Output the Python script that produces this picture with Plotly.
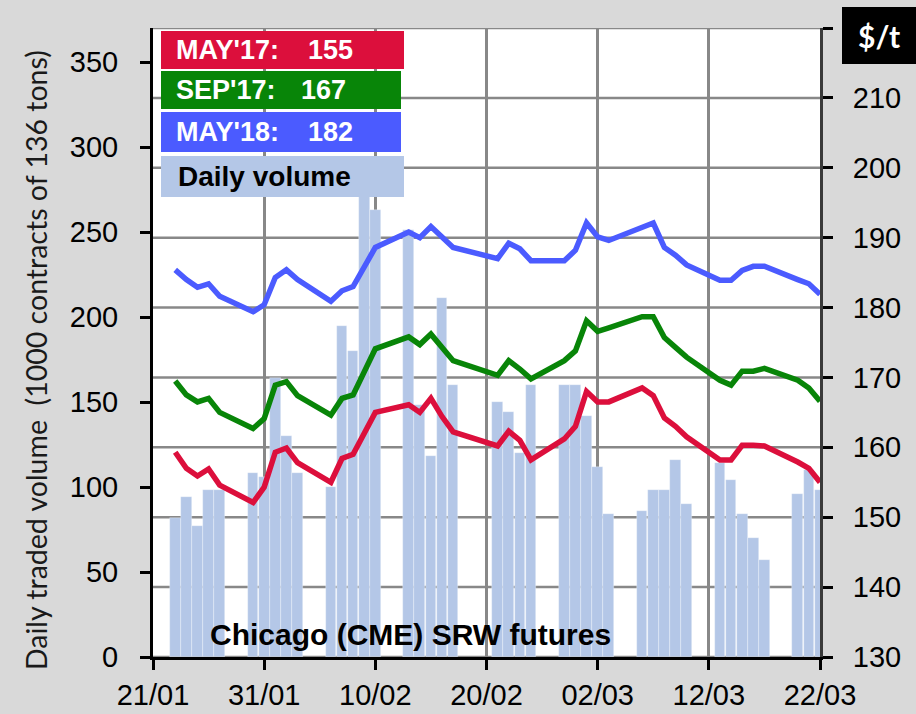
import plotly.graph_objects as go

# ---------------- data ----------------
dates = ["2017-01-23", "2017-01-24", "2017-01-25", "2017-01-26", "2017-01-27",
         "2017-01-30", "2017-01-31", "2017-02-01", "2017-02-02", "2017-02-03",
         "2017-02-06", "2017-02-07", "2017-02-08", "2017-02-09", "2017-02-10",
         "2017-02-13", "2017-02-14", "2017-02-15", "2017-02-16", "2017-02-17",
         "2017-02-21", "2017-02-22", "2017-02-23", "2017-02-24",
         "2017-02-27", "2017-02-28", "2017-03-01", "2017-03-02", "2017-03-03",
         "2017-03-06", "2017-03-07", "2017-03-08", "2017-03-09", "2017-03-10",
         "2017-03-13", "2017-03-14", "2017-03-15", "2017-03-16", "2017-03-17",
         "2017-03-20", "2017-03-21", "2017-03-22"]

volume = [82, 94, 77, 98, 98,
          108, 106, 164, 130, 108,
          100, 195, 180, 285, 263,
          251, 148, 118, 211, 160,
          150, 144, 120, 160,
          160, 160, 142, 112, 84,
          86, 98, 98, 116, 90,
          114, 104, 84, 70, 57,
          96, 110, 98]

may17 = [159.3, 157.0, 155.9, 156.9, 154.6,
         152.1, 154.3, 159.3, 159.9, 157.8,
         155.0, 158.4, 159.0, 162.0, 165.0,
         166.1, 165.0, 167.0, 164.4, 162.2,
         160.2, 162.3, 161.0, 158.2,
         161.2, 163.0, 168.0, 166.5, 166.5,
         168.5, 167.4, 164.2, 163.0, 161.5,
         158.2, 158.2, 160.3, 160.3, 160.2,
         157.9, 157.0, 155.0]

sep17 = [169.5, 167.5, 166.5, 167.0, 165.0,
         162.7, 164.1, 168.9, 169.4, 167.4,
         164.6, 167.0, 167.5, 170.9, 174.1,
         175.8, 174.7, 176.2, 174.2, 172.4,
         170.3, 172.4, 171.2, 169.8,
         172.4, 173.8, 178.1, 176.6, 177.1,
         178.7, 178.7, 175.7, 174.3, 172.9,
         169.6, 168.9, 170.9, 170.9, 171.3,
         169.6, 168.5, 166.6]

may18 = [185.4, 184.0, 182.9, 183.4, 181.6,
         179.4, 180.4, 184.3, 185.4, 184.0,
         180.9, 182.4, 183.0, 185.8, 188.6,
         190.8, 190.0, 191.6, 190.1, 188.6,
         187.0, 189.2, 188.4, 186.7,
         186.7, 188.2, 192.1, 190.1, 189.6,
         191.6, 192.1, 188.6, 187.5, 186.1,
         183.9, 183.9, 185.3, 185.9, 185.9,
         184.0, 183.4, 181.9]

series_names = ["MAY'17:", "SEP'17:", "MAY'18:"]
series_last = ["155", "167", "182"]
x_tickvals = ["2017-01-21", "2017-01-31", "2017-02-10", "2017-02-20",
              "2017-03-02", "2017-03-12", "2017-03-22"]
x_ticktext = ["21/01", "31/01", "10/02", "20/02", "02/03", "12/03", "22/03"]
left_ticks = [0, 50, 100, 150, 200, 250, 300, 350]
right_ticks = [130, 140, 150, 160, 170, 180, 190, 200, 210, 220]
right_ticktext = ["130", "140", "150", "160", "170", "180", "190", "200", "210", ""]

# ---------------- styling ----------------
W, H = 916, 714
L, R, T, B = 153, 96, 28, 57
PW, PH = W - L - R, H - T - B

def px(x):
    return (x - L) / PW

def py(y):
    return (H - B - y) / PH

RED = "#dc0f3c"
GREEN = "#088508"
BLUE = "#4b5bff"
BARC = "#b4c7e7"
GRID = "#888888"
FONT = "Liberation Sans, Arial, sans-serif"
DAY = 86400000

fig = go.Figure()
fig.add_trace(go.Bar(x=dates, y=volume, width=[DAY * 0.96] * len(dates),
                     marker=dict(color=BARC, line=dict(color="rgba(255,255,255,0.5)", width=0.6)),
                     yaxis="y", showlegend=False))
for vals, col in [(may18, BLUE), (sep17, GREEN), (may17, RED)]:
    fig.add_trace(go.Scatter(x=dates, y=vals, mode="lines", yaxis="y2",
                             line=dict(color=col, width=5.5), showlegend=False))

shapes = []
annotations = []
# horizontal gridlines at the right-axis ticks, kept beneath the bars
for v in right_ticks:
    shapes.append(dict(type="line", xref="paper", yref="y2", layer="below",
                       x0=0, x1=1, y0=v, y1=v,
                       line=dict(color=GRID, width=2.5)))

boxes = [(31, 69, 404, RED), (71, 109, 401, GREEN), (112, 152, 401, BLUE)]
for i, (y0, y1, x1, col) in enumerate(boxes):
    shapes.append(dict(type="rect", xref="paper", yref="paper", layer="above",
                       x0=px(161), x1=px(x1), y0=py(y1), y1=py(y0),
                       fillcolor=col, line=dict(width=0)))
    annotations.append(dict(xref="paper", yref="paper", x=px(174), y=py((y0 + y1) / 2),
                            xanchor="left", yanchor="middle", showarrow=False,
                            text="<b>%s</b>" % series_names[i],
                            font=dict(family=FONT, size=27, color="white")))
    annotations.append(dict(xref="paper", yref="paper",
                            x=px(306 if i != 1 else 299), y=py((y0 + y1) / 2),
                            xanchor="left", yanchor="middle", showarrow=False,
                            text="<b>%s</b>" % series_last[i],
                            font=dict(family=FONT, size=27, color="white")))
shapes.append(dict(type="rect", xref="paper", yref="paper", layer="above",
                   x0=px(161), x1=px(404), y0=py(197), y1=py(156),
                   fillcolor=BARC, line=dict(width=0)))
annotations.append(dict(xref="paper", yref="paper", x=px(176), y=py(177),
                        xanchor="left", yanchor="middle", showarrow=False,
                        text="<b>Daily volume</b>",
                        font=dict(family=FONT, size=28, color="black")))
# $/t box
shapes.append(dict(type="rect", xref="paper", yref="paper", layer="above",
                   x0=px(842), x1=px(916), y0=py(64), y1=py(7),
                   fillcolor="black", line=dict(width=0)))
annotations.append(dict(xref="paper", yref="paper", x=px(879), y=py(36),
                        xanchor="center", yanchor="middle", showarrow=False,
                        text="<b>$/t</b>",
                        font=dict(family="Lato, sans-serif", size=30, color="white")))
# inner label
annotations.append(dict(xref="paper", yref="paper", x=px(410), y=py(634),
                        xanchor="center", yanchor="middle", showarrow=False,
                        text="<b>Chicago (CME) SRW futures</b>",
                        font=dict(family=FONT, size=30, color="black")))
# y-axis title
annotations.append(dict(xref="paper", yref="paper", x=px(36), y=py(360),
                        xanchor="center", yanchor="middle", showarrow=False,
                        textangle=-90,
                        text="Daily traded volume  (1000 contracts of 136 tons)",
                        font=dict(family="Lato, sans-serif", size=28.5, color="#1a1a1a")))

axis_common = dict(showline=True, linewidth=3, ticks="outside", ticklen=10,
                   tickwidth=3, tickcolor="black", automargin=False, zeroline=False,
                   tickfont=dict(family=FONT, size=29, color="black"))

fig.update_layout(
    width=W, height=H,
    margin=dict(l=L, r=R, t=T, b=B, pad=0, autoexpand=False),
    paper_bgcolor="#d9d9d9", plot_bgcolor="white",
    bargap=0,
    shapes=shapes, annotations=annotations,
    xaxis=dict(type="date", range=["2017-01-21", "2017-03-22"],
               tickvals=x_tickvals, ticktext=x_ticktext,
               showgrid=True, gridcolor=GRID, gridwidth=2.5,
               linecolor="black", ticklabelstandoff=0, **axis_common),
    yaxis=dict(range=[0, 370], tickvals=left_ticks, showgrid=False,
               linecolor="black", ticklabelstandoff=16, **axis_common),
    yaxis2=dict(range=[130, 220], overlaying="y", side="right",
                tickvals=right_ticks, ticktext=right_ticktext,
                showgrid=False,
                linecolor="#3a3a3a", ticklabelstandoff=14, **axis_common),
)

fig.write_html("out.html", config={"displayModeBar": False},
               post_script="document.body.style.margin='0';document.body.style.overflow='hidden';")
